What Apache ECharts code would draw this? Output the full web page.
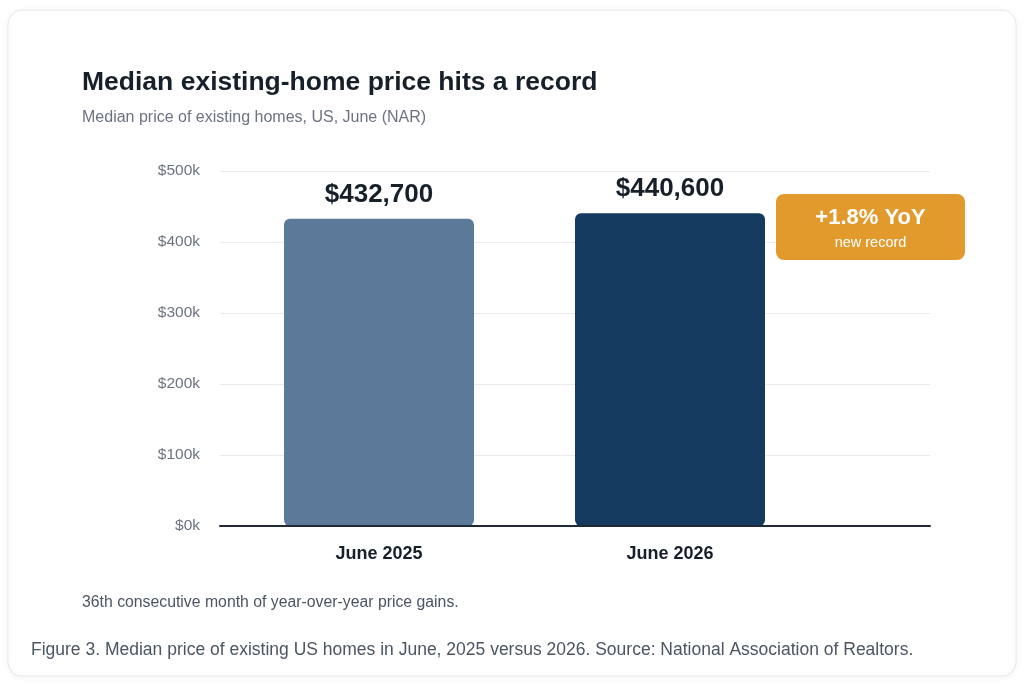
<!DOCTYPE html>
<html>
<head>
<meta charset="utf-8">
<title>Median existing-home price</title>
<script src="https://cdn.jsdelivr.net/npm/echarts@6/dist/echarts.min.js"></script>
<style>
  html, body { margin: 0; padding: 0; background: #ffffff; }
  #chart { width: 1024px; height: 684px; }
</style>
</head>
<body>
<div id="chart"></div>
<script>
// data
var categories = ['June 2025', 'June 2026'];
var prices = [432700, 440600];
var yTicks = [0, 100000, 200000, 300000, 400000, 500000];

var FONT = '"Liberation Sans", Arial, sans-serif';
var barColors = ['#5b7a99', '#143a60'];
var yoy = ((prices[1] / prices[0] - 1) * 100).toFixed(1);

var chart = echarts.init(document.getElementById('chart'));

var option = {
  backgroundColor: '#ffffff',
  textStyle: { fontFamily: FONT },
  animation: false,
  grid: [
    // background grid: gridlines + baseline, full width
    { left: 220, right: 94, top: 171, bottom: 158 },
    // bars
    { left: 233.5, width: 582, top: 171, bottom: 158 }
  ],
  xAxis: [
    {
      gridIndex: 0,
      type: 'value', min: 0, max: 1,
      z: 5,
      axisLine: { show: true, onZero: false, lineStyle: { color: '#1f2a37', width: 2 } },
      axisTick: { show: false },
      axisLabel: { show: false },
      splitLine: { show: false }
    },
    {
      gridIndex: 1,
      type: 'category',
      data: categories,
      axisLine: { show: false },
      axisTick: { show: false },
      axisLabel: {
        margin: 19,
        fontSize: 18,
        fontWeight: 'bold',
        color: '#17202a',
        fontFamily: FONT
      }
    }
  ],
  yAxis: [
    {
      gridIndex: 0,
      type: 'value',
      min: yTicks[0],
      max: yTicks[yTicks.length - 1],
      interval: yTicks[1] - yTicks[0],
      axisLine: { show: false },
      axisTick: { show: false },
      axisLabel: {
        margin: 20,
        fontSize: 15.5,
        color: '#6b7280',
        fontFamily: FONT,
        formatter: function (v) { return '$' + (v / 1000) + 'k'; }
      },
      splitLine: { lineStyle: { color: '#e8ecf0', width: 1 } }
    },
    {
      gridIndex: 1,
      type: 'value',
      min: yTicks[0],
      max: yTicks[yTicks.length - 1],
      show: false
    }
  ],
  series: [
    {
      type: 'bar',
      xAxisIndex: 1,
      yAxisIndex: 1,
      barWidth: 190,
      data: prices.map(function (v, i) {
        return { value: v, itemStyle: { color: barColors[i] } };
      }),
      itemStyle: { borderRadius: 6 },
      label: {
        show: true,
        position: 'top',
        distance: 11,
        fontSize: 26,
        fontWeight: 'bold',
        color: '#17202a',
        fontFamily: FONT,
        formatter: function (p) { return '$' + p.value.toLocaleString('en-US'); }
      }
    }
  ],
  graphic: [
    {
      type: 'rect',
      z: -10,
      shape: { x: 8, y: 10, width: 1008, height: 666, r: 14 },
      style: {
        fill: '#ffffff', stroke: '#e6e8eb', lineWidth: 1,
        shadowBlur: 6, shadowColor: 'rgba(0,0,0,0.06)', shadowOffsetY: 1
      }
    },
    {
      type: 'text', left: 82, top: 69,
      style: { text: 'Median existing-home price hits a record', font: 'bold 26.5px ' + FONT, fill: '#17202a' }
    },
    {
      type: 'text', left: 82, top: 110,
      style: { text: 'Median price of existing homes, US, June (NAR)', font: '16px ' + FONT, fill: '#6b7280' }
    },
    // YoY badge, drawn above the gridlines
    {
      type: 'rect', z: 100,
      shape: { x: 776, y: 194, width: 189, height: 66, r: 8 },
      style: { fill: '#e39a2d' }
    },
    {
      type: 'text', z: 101, x: 870.5, y: 218,
      style: { text: yoy > 0 ? '+' + yoy + '% YoY' : yoy + '% YoY', font: 'bold 22px ' + FONT, fill: '#ffffff', align: 'center', verticalAlign: 'middle' }
    },
    {
      type: 'text', z: 101, x: 870.5, y: 242.5,
      style: { text: 'new record', font: '14.5px ' + FONT, fill: '#ffffff', align: 'center', verticalAlign: 'middle' }
    },
    {
      type: 'text', left: 82, top: 595,
      style: { text: '36th consecutive month of year-over-year price gains.', font: '15.8px ' + FONT, fill: '#4b5563' }
    },
    {
      type: 'text', left: 31, top: 641,
      style: { text: 'Figure 3. Median price of existing US homes in June, 2025 versus 2026. Source: National Association of Realtors.', font: '17.5px ' + FONT, fill: '#4b5563' }
    }
  ]
};

chart.setOption(option);
</script>
</body>
</html>
